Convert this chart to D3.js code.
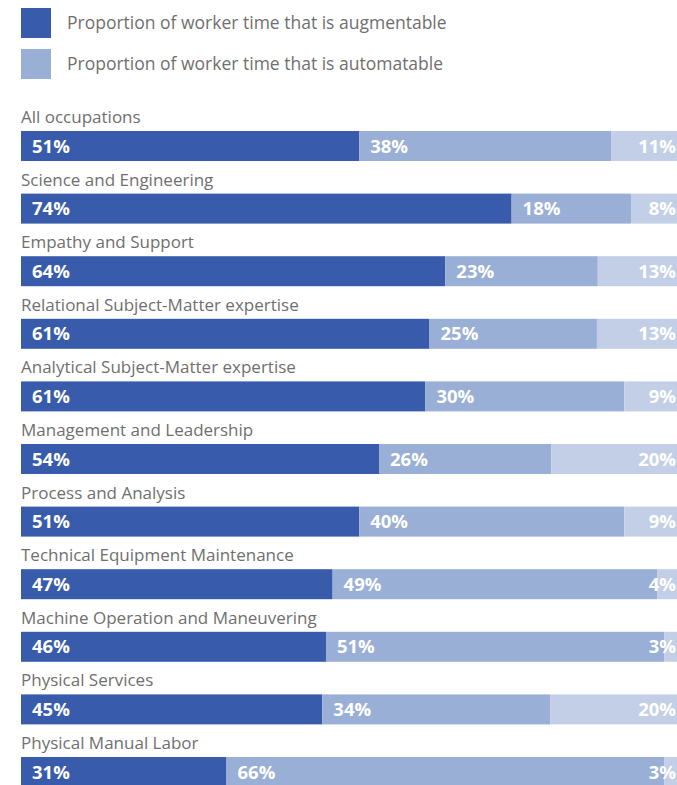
<!DOCTYPE html>
<html>
<head>
<meta charset="utf-8">
<script src="https://cdn.jsdelivr.net/npm/d3@7"></script>
<style>
  html, body { margin: 0; padding: 0; background: #fff; overflow: hidden; }
  text { font-family: "Open Sans", "Noto Sans", sans-serif; }
</style>
</head>
<body>
<div id="chart"></div>
<script>
(function () {
    var width = 677,
        height = 785;

    // data
    var categories = [
        "All occupations",
        "Science and Engineering",
        "Empathy and Support",
        "Relational Subject-Matter expertise",
        "Analytical Subject-Matter expertise",
        "Management and Leadership",
        "Process and Analysis",
        "Technical Equipment Maintenance",
        "Machine Operation and Maneuvering",
        "Physical Services",
        "Physical Manual Labor"
    ];
    var augmentable = [51, 74, 64, 61, 61, 54, 51, 47, 46, 45, 31];
    var automatable = [38, 18, 23, 25, 30, 26, 40, 49, 51, 34, 66];
    var other = [11, 8, 13, 13, 9, 20, 9, 4, 3, 20, 3];
    var legendLabels = [
        "Proportion of worker time that is augmentable",
        "Proportion of worker time that is automatable"
    ];

    var keys = ["aug", "auto", "other"];
    var colors = ["#385cab", "#9aafd6", "#c3cfe6"];

    var rows = categories.map(function (c, i) {
        return {name: c, aug: augmentable[i], auto: automatable[i], other: other[i]};
    });

    var svg = d3.select("#chart")
        .append("svg")
        .attr("width", width)
        .attr("height", height);

    // legend
    var legend = svg.append("g");
    legendLabels.forEach(function (l, i) {
        legend.append("rect")
            .attr("x", 21)
            .attr("y", 8 + i * 41)
            .attr("width", 30)
            .attr("height", 30)
            .attr("fill", colors[i]);
        legend.append("text")
            .attr("x", 67)
            .attr("y", 29 + i * 41)
            .attr("font-size", 17.5)
            .attr("fill", "#6f6f6f")
            .text(l);
    });

    var stack = d3.stack().keys(keys).offset(d3.stackOffsetExpand);
    var series = stack(rows);

    var x = d3.scaleLinear().domain([0, 1]).range([21, 684]);
    var y = d3.scaleBand()
        .domain(categories)
        .range([131, 131 + 62.6 * categories.length])
        .paddingInner(0);
    var barH = 30;

    // category labels
    svg.selectAll(".cat")
        .data(categories)
        .enter().append("text")
        .attr("class", "cat")
        .attr("x", 21)
        .attr("y", function (d) { return y(d) - 8; })
        .attr("font-size", 17)
        .attr("fill", "#6f6f6f")
        .text(function (d) { return d; });

    var groups = svg.selectAll(".series")
        .data(series)
        .enter().append("g")
        .attr("class", "series")
        .attr("fill", function (d, i) { return colors[i]; });

    groups.selectAll("rect")
        .data(function (d) { return d; })
        .enter().append("rect")
        .attr("x", function (d) { return x(d[0]); })
        .attr("y", function (d) { return y(d.data.name); })
        .attr("width", function (d) { return x(d[1]) - x(d[0]); })
        .attr("height", barH);

    // value labels
    groups.each(function (s, si) {
        d3.select(this).selectAll("text")
            .data(s)
            .enter().append("text")
            .attr("x", function (d) {
                return si === 2 ? 676 : x(d[0]) + 11;
            })
            .attr("y", function (d) { return y(d.data.name) + 21.5; })
            .attr("text-anchor", si === 2 ? "end" : "start")
            .attr("font-size", 18.5)
            .attr("font-weight", "bold")
            .attr("fill", "#fff")
            .text(function (d) { return d.data[s.key] + "%"; });
    });
})();
</script>
</body>
</html>
